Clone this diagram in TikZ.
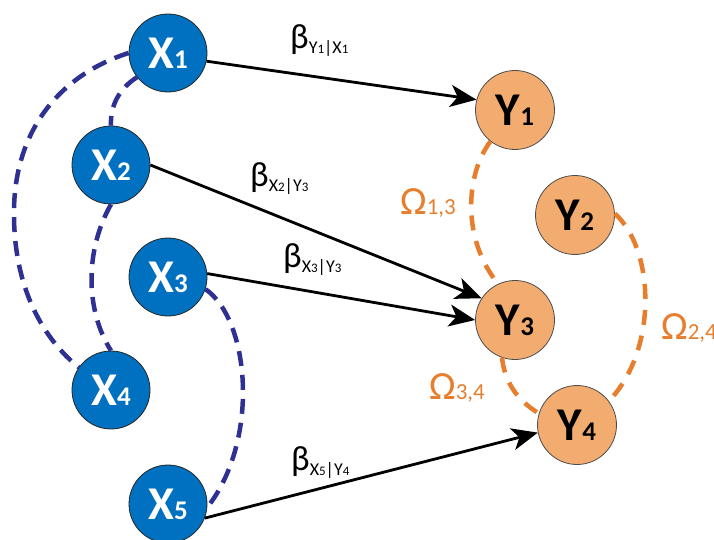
\documentclass[tikz,border=0pt]{standalone}
\usepackage{fontspec}
\setmainfont{Carlito}
\usetikzlibrary{arrows.meta}
\definecolor{xblue}{HTML}{0070C0}
\definecolor{yorange}{HTML}{F2AC6F}
\definecolor{dblue}{HTML}{2E3192}
\definecolor{dorange}{HTML}{E67E2E}
\newcommand\betalab[4]{{\fontsize{35}{35}\selectfont β}\raisebox{-5pt}{\fontsize{18}{18}\selectfont #1{\fontsize{13}{13}\selectfont #2}|#3{\fontsize{13}{13}\selectfont #4}}}
\newcommand\omegalab[1]{{\fontsize{40}{40}\selectfont Ω}{\fontsize{23}{23}\selectfont #1}}
\newcommand\nodelab[2]{#1{\fontsize{27}{27}\selectfont #2}}
\begin{document}
\begin{tikzpicture}[x=1pt,y=-1pt,
  xnode/.style={circle,minimum size=78pt,inner sep=0pt,fill=xblue,draw=black!85,line width=0.8pt,text=white,font=\bfseries\fontsize{47}{47}\selectfont},
  ynode/.style={circle,minimum size=79pt,inner sep=0pt,fill=yorange,draw=black!70,line width=0.8pt,text=black,font=\bfseries\fontsize{47}{47}\selectfont},
  arr/.style={line width=2.8pt,-{Stealth[length=26pt,width=22pt,inset=7pt]}},
  bdash/.style={dblue,line width=4.5pt,dash pattern=on 15pt off 9pt},
  odash/.style={dorange,line width=4.5pt,dash pattern=on 15pt off 11pt},
  lab/.style={anchor=base west,inner sep=0pt},
  olab/.style={anchor=base west,inner sep=0pt,text=dorange}]
\useasboundingbox (0,0) rectangle (714,540);
% nodes
\node[xnode] (X1) at (168,53) {\nodelab{X}{1}};
\node[xnode] (X2) at (111,165) {\nodelab{X}{2}};
\node[xnode] (X3) at (168,277) {\nodelab{X}{3}};
\node[xnode] (X4) at (111,390) {\nodelab{X}{4}};
\node[xnode] (X5) at (168,504) {\nodelab{X}{5}};
\node[ynode] (Y1) at (515,110) {\nodelab{Y}{1}};
\node[ynode] (Y2) at (575,215) {\nodelab{Y}{2}};
\node[ynode] (Y3) at (515,320) {\nodelab{Y}{3}};
\node[ynode] (Y4) at (577,425) {\nodelab{Y}{4}};
% blue dashed correlations
\draw[bdash] (X1.180) .. controls (60,75) and (15,130) .. (14,210) .. controls (13,290) and (45,340) .. (X4.145);
\draw[bdash] (X1.218) .. controls (120,88) and (110,105) .. (X2.90);
\draw[bdash] (X2.270) .. controls (85,250) and (85,310) .. (X4.90);
\draw[bdash] (X3.-18) .. controls (250,320) and (260,440) .. (X5.-5);
% orange dashed correlations
\draw[odash] (Y1.232) .. controls (465,175) and (462,240) .. (Y3.115);
\draw[odash] (Y3.251) .. controls (505,385) and (520,402) .. (Y4.163);
\draw[odash] (Y2.2) .. controls (655,250) and (658,350) .. (Y4.37);
% arrows
\draw[arr] (X1.-12) -- (Y1.165);
\draw[arr] (X2.0) -- (Y3.147);
\draw[arr] (X3.5) -- (Y3.180);
\draw[arr] (X5.-21) -- (Y4.191);
% labels
\node[lab] (b1) at (290,49) {\betalab{Y}{1}{X}{1}};
\node[lab] (b2) at (250,186) {\betalab{X}{2}{Y}{3}};
\node[lab] (b3) at (283,267) {\betalab{X}{3}{Y}{3}};
\node[lab] (b4) at (291,470) {\betalab{X}{5}{Y}{4}};
\node[olab] (o13) at (400,214) {\omegalab{1,3}};
\node[olab] (o34) at (429,399) {\omegalab{3,4}};
\node[olab] (o24) at (661,339) {\omegalab{2,4}};
\end{tikzpicture}
\end{document}
